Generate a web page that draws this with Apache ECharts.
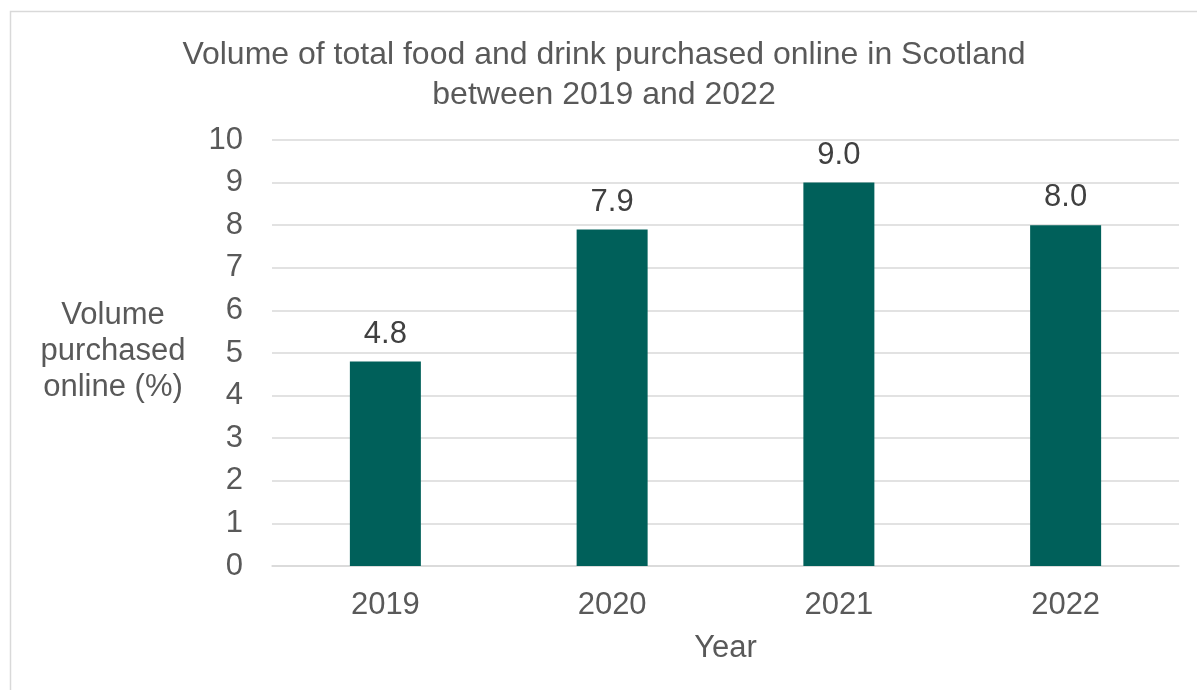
<!DOCTYPE html>
<html>
<head>
<meta charset="utf-8">
<script src="https://cdn.jsdelivr.net/npm/echarts@6/dist/echarts.min.js"></script>
<style>
  html, body { margin: 0; padding: 0; background: #fff; }
  #chart { width: 1197px; height: 690px; }
</style>
</head>
<body>
<div id="chart"></div>
<script>
// Share of food and drink volume bought online, Scotland
const years = ['2019', '2020', '2021', '2022'];
const onlineShare = [4.8, 7.9, 9.0, 8.0];
const yTicks = { min: 0, max: 10, interval: 1 };

const font = '"Liberation Sans", Arial, sans-serif';
const chart = echarts.init(document.getElementById('chart'));

chart.setOption({
  animation: false,
  backgroundColor: '#ffffff',
  title: {
    text: 'Volume of total food and drink purchased online in Scotland\nbetween 2019 and 2022',
    left: 599,
    top: 30,
    textAlign: 'center',
    textStyle: { fontFamily: font, fontSize: 32, fontWeight: 'normal', color: '#595959', lineHeight: 40 }
  },
  graphic: [
    {
      type: 'rect',
      shape: { x: 10.5, y: 11.5, width: 1200, height: 700 },
      style: { fill: 'none', stroke: '#d9d9d9', lineWidth: 1.5 },
      silent: true
    },
    {
      type: 'text',
      style: {
        text: 'Volume\npurchased\nonline (%)',
        x: 113, y: 297,
        textAlign: 'center',
        font: '31px ' + font,
        fill: '#595959',
        lineHeight: 36
      }
    }
  ],
  grid: { left: 272, right: 18, top: 140, bottom: 124 },
  xAxis: {
    type: 'category',
    data: years,
    name: 'Year',
    nameLocation: 'middle',
    nameGap: 67,
    nameTextStyle: { fontFamily: font, fontSize: 31, color: '#595959' },
    axisLine: { show: true, lineStyle: { color: '#d9d9d9', width: 1.5 } },
    axisTick: { show: false },
    axisLabel: { fontFamily: font, fontSize: 31, color: '#595959', margin: 24 }
  },
  yAxis: {
    type: 'value',
    min: yTicks.min,
    max: yTicks.max,
    interval: yTicks.interval,
    axisLine: { show: false },
    axisTick: { show: false },
    axisLabel: { fontFamily: font, fontSize: 31, color: '#595959', margin: 29 },
    splitLine: { lineStyle: { color: '#d9d9d9', width: 1.5 } }
  },
  series: [{
    type: 'bar',
    data: onlineShare,
    barWidth: 71,
    itemStyle: { color: '#00605a' },
    label: {
      show: true,
      position: 'top',
      distance: 12,
      formatter: function (p) { return p.value.toFixed(1); },
      fontFamily: font,
      fontSize: 31,
      color: '#404040'
    }
  }]
});
</script>
</body>
</html>
